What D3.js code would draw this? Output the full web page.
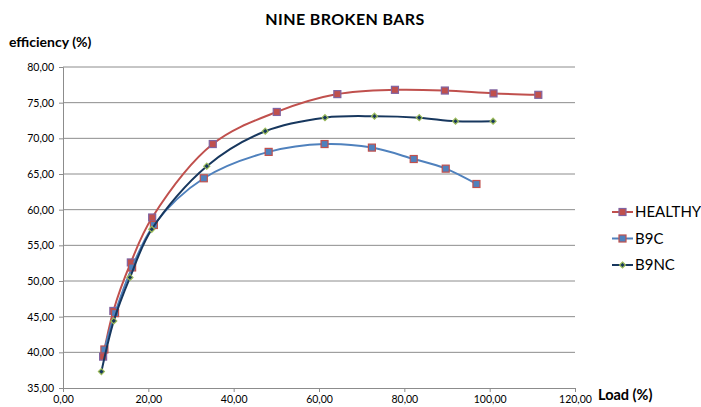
<!DOCTYPE html>
<html>
<head>
<meta charset="utf-8">
<script src="https://cdn.jsdelivr.net/npm/d3@7"></script>
<style>
  body { margin: 0; background: #fff; }
  text { font-family: Lato, "Open Sans", sans-serif; fill: #000; }
</style>
</head>
<body>
<div id="chart"></div>
<script>
// load (%) and efficiency (%)
var healthyLoad = [9.4, 11.8, 15.9, 20.9, 35.1, 50.1, 64.3, 77.8, 89.5, 100.9, 111.4];
var healthyEff  = [39.4, 45.8, 52.6, 58.9, 69.2, 73.7, 76.2, 76.8, 76.7, 76.3, 76.1];

var b9cLoad = [9.7, 12.2, 16.2, 21.3, 33.0, 48.2, 61.3, 72.4, 82.2, 89.7, 96.9];
var b9cEff  = [40.4, 45.5, 51.9, 57.85, 64.4, 68.1, 69.2, 68.7, 67.1, 65.75, 63.6];

var b9ncLoad = [9.0, 11.9, 15.7, 20.8, 33.7, 47.4, 61.4, 73.0, 83.5, 92.0, 100.8];
var b9ncEff  = [37.3, 44.4, 50.5, 57.25, 66.1, 71.0, 72.9, 73.1, 72.9, 72.4, 72.4];

var seriesNames = ["HEALTHY", "B9C", "B9NC"];
var xTicks = [0, 20, 40, 60, 80, 100, 120];
var yTicks = [35, 40, 45, 50, 55, 60, 65, 70, 75, 80];

var series = [
  {name: seriesNames[0], load: healthyLoad, eff: healthyEff, line: "#C0504D", fill: "#C0504D", stroke: "#8064A2", marker: "square"},
  {name: seriesNames[1], load: b9cLoad, eff: b9cEff, line: "#4F81BD", fill: "#4F81BD", stroke: "#C0504D", marker: "square"},
  {name: seriesNames[2], load: b9ncLoad, eff: b9ncEff, line: "#17375E", fill: "#17375E", stroke: "#9BBB59", marker: "diamond"}
];

var width = 701, height = 407;
var svg = d3.select("#chart").append("svg")
            .attr("width", width)
            .attr("height", height);

var x = d3.scaleLinear().domain([0, 120]).range([63, 575]);
var y = d3.scaleLinear().domain([35, 80]).range([388, 67]);

// gridlines
svg.append("g")
   .selectAll("line")
   .data(yTicks.slice(1))
   .enter().append("line")
     .attr("x1", x(0)).attr("x2", x(120))
     .attr("y1", function(d) { return y(d); })
     .attr("y2", function(d) { return y(d); })
     .attr("stroke", "#8c8c8c")
     .attr("stroke-width", 1);

var fmt = function(d) { return d3.format(".2f")(d).replace(".", ","); };

var xAxis = svg.append("g")
   .attr("transform", "translate(0," + y(35) + ")")
   .call(d3.axisBottom(x).tickValues(xTicks).tickFormat(fmt).tickSize(4).tickPadding(4));

var yAxis = svg.append("g")
   .attr("transform", "translate(" + x(0) + ",0)")
   .call(d3.axisLeft(y).tickValues(yTicks).tickFormat(fmt).tickSize(4).tickPadding(5));

[xAxis, yAxis].forEach(function(a) {
  a.select(".domain").attr("stroke", "#8c8c8c");
  a.selectAll(".tick line").attr("stroke", "#8c8c8c");
  a.selectAll(".tick text").style("font-size", "10.5px").style("font-family", "Lato, sans-serif").attr("fill", "#222");
});

var line = d3.line()
  .x(function(d) { return x(d[0]); })
  .y(function(d) { return y(d[1]); })
  .curve(d3.curveCatmullRom.alpha(0.5));

var drawMarker = function(g, s, cx, cy) {
  if (s.marker === "square") {
    g.append("rect")
     .attr("x", cx - 3.5).attr("y", cy - 3.5)
     .attr("width", 7).attr("height", 7)
     .attr("fill", s.fill)
     .attr("stroke", s.stroke).attr("stroke-width", 1.2);
  } else {
    g.append("path")
     .attr("d", "M" + cx + "," + (cy - 3) + " l3,3 l-3,3 l-3,-3z")
     .attr("fill", s.fill)
     .attr("stroke", s.stroke).attr("stroke-width", 1.2);
  }
};

series.forEach(function(s) {
  var pts = s.load.map(function(l, i) { return [l, s.eff[i]]; });
  var g = svg.append("g").classed("series", true);
  g.append("path")
   .attr("d", line(pts))
   .attr("fill", "none")
   .attr("stroke", s.line)
   .attr("stroke-width", 2);
  pts.forEach(function(p) { drawMarker(g, s, x(p[0]), y(p[1])); });
});

// legend
var legend = svg.append("g");
series.forEach(function(s, i) {
  var ly = 212 + i * 26.5;
  legend.append("line")
        .attr("x1", 612).attr("x2", 633)
        .attr("y1", ly).attr("y2", ly)
        .attr("stroke", s.line).attr("stroke-width", 2);
  drawMarker(legend, s, 622.5, ly);
  legend.append("text")
        .attr("x", 635).attr("y", ly + 5)
        .style("font-size", "15px")
        .text(s.name);
});

svg.append("text")
   .attr("x", 345).attr("y", 25)
   .attr("text-anchor", "middle")
   .style("font-size", "16px").style("font-weight", "bold")
   .style("letter-spacing", "0.4px")
   .text("NINE BROKEN BARS");

svg.append("text")
   .attr("x", 9).attr("y", 47)
   .style("font-size", "14px").style("font-weight", "bold")
   .text("efficiency (%)");

svg.append("text")
   .attr("x", 598).attr("y", 400)
   .style("font-size", "14.5px").style("font-weight", "bold")
   .text("Load (%)");
</script>
</body>
</html>
